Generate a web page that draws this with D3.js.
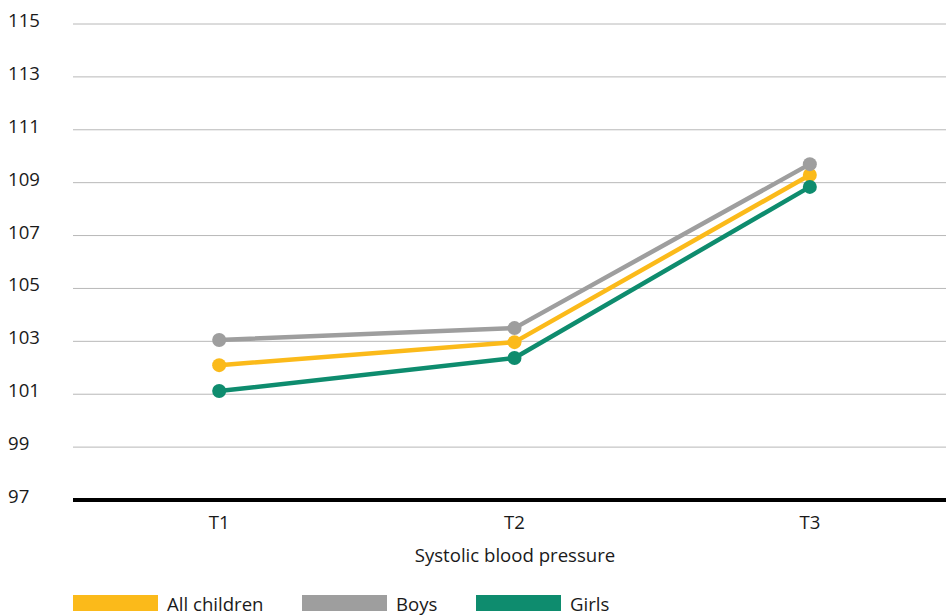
<!DOCTYPE html>
<html><head><meta charset="utf-8">
<script src="https://cdn.jsdelivr.net/npm/d3@7"></script>
<style>body{margin:0;background:#fff}svg{display:block;font-family:"Open Sans","Noto Sans",sans-serif}</style>
</head><body><svg id="c" width="946" height="616"></svg>
<script>
const categories = ["T1","T2","T3"];
const seriesNames = ["All children","Boys","Girls"];
const allChildren = [102.1, 102.97, 109.29];
const boys = [103.05, 103.5, 109.7];
const girls = [101.12, 102.37, 108.84];
const yTicks = [97,99,101,103,105,107,109,111,113,115];
const colors = ["#FBBA1A","#9E9E9E","#0E8C6E"];
const axisTitle = "Systolic blood pressure";

const svg = d3.select("#c");
const x = d3.scaleBand().domain(categories).range([71.5, 957.5]);
const y = d3.scaleLinear().domain([97,115]).range([500,24]);
const left = 73, right = 946;
const fs = 18.6;

svg.append("g").selectAll("line").data(yTicks.filter(t=>t!==97)).join("line")
  .attr("x1",left).attr("x2",right).attr("y1",d=>y(d)).attr("y2",d=>y(d))
  .attr("stroke","#b8b8b8").attr("stroke-width",1);
svg.append("g").selectAll("text").data(yTicks).join("text")
  .attr("x",8).attr("y",d=>y(d)+3).attr("font-size",fs).attr("fill","#1a1a1a")
  .text(d=>d);
svg.append("line").attr("x1",left).attr("x2",right).attr("y1",y(97)).attr("y2",y(97))
  .attr("stroke","#000").attr("stroke-width",4);
svg.append("g").selectAll("text").data(categories).join("text")
  .attr("x",d=>x(d)+x.bandwidth()/2).attr("y",528.5).attr("text-anchor","middle")
  .attr("font-size",fs).attr("fill","#1a1a1a").text(d=>d);
svg.append("text").attr("x",515).attr("y",561.5).attr("text-anchor","middle")
  .attr("font-size",fs).attr("fill","#1a1a1a").text(axisTitle);

const series = [allChildren, boys, girls];
const line = d3.line().x((d,i)=>x(categories[i])+x.bandwidth()/2).y(d=>y(d));
series.forEach((s,k)=>{
  const g = svg.append("g");
  g.append("path").attr("d",line(s)).attr("fill","none").attr("stroke",colors[k]).attr("stroke-width",4.5);
  g.selectAll("circle").data(s).join("circle")
    .attr("cx",(d,i)=>x(categories[i])+x.bandwidth()/2).attr("cy",d=>y(d)).attr("r",7)
    .attr("fill",colors[k]);
});

const legX = [73, 302, 476];
seriesNames.forEach((n,k)=>{
  svg.append("rect").attr("x",legX[k]).attr("y",595).attr("width",85).attr("height",16).attr("fill",colors[k]);
  svg.append("text").attr("x",legX[k]+94).attr("y",610.5).attr("font-size",fs).attr("fill","#1a1a1a").text(n);
});
</script></body></html>
